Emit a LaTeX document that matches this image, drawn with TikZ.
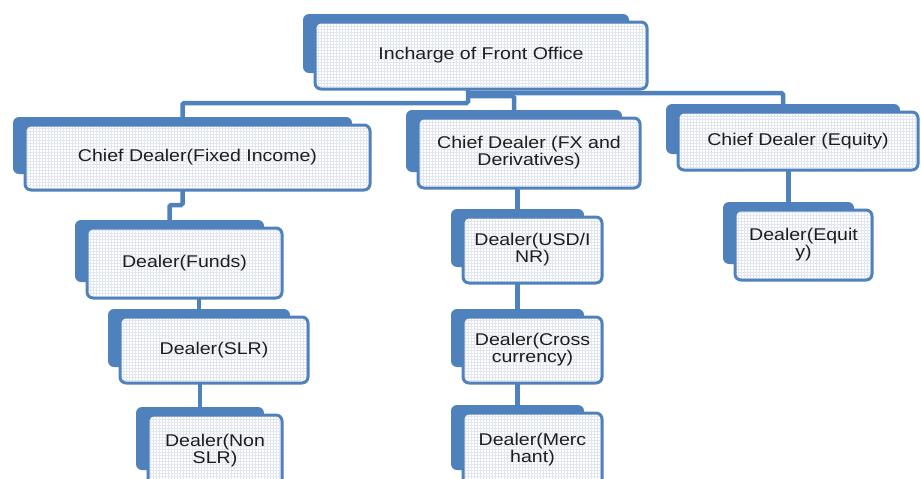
\documentclass[tikz,border=0pt]{standalone}
\usepackage{fontspec}
\setmainfont{Liberation Sans}[FakeStretch=1.15]
\usetikzlibrary{patterns,backgrounds}
\definecolor{boxblue}{HTML}{4F81BD}
\definecolor{gridc}{HTML}{E2E7EF}
\definecolor{txt}{HTML}{1E1E1E}

\tikzset{
  backtab/.style={fill=boxblue, draw=none, rounded corners=6pt, inner sep=0pt, outer sep=0pt},
  frontbox/.style={draw=boxblue, line width=3pt, rounded corners=6pt,
    preaction={fill=white}, pattern=grid, pattern color=gridc,
    inner sep=0pt, outer sep=0pt, align=center, text=txt,
    font=\fontsize{17}{17}\selectfont},
  conn/.style={draw=boxblue, line width=4.5pt, rounded corners=1.5pt},
}

% name, left, top, right, bottom, text
\newcommand\orgbox[6]{%
  \node[backtab, minimum width={(#4-#2-6)*1pt}, minimum height={(#5-#3-8)*1pt}]
    (#1b) at ({(#2+#4-30)/2},{(#3+#5-24)/2}) {};
  \node[frontbox, minimum width={(#4-#2)*1pt}, minimum height={(#5-#3)*1pt}]
    (#1) at ({(#2+#4)/2},{(#3+#5)/2}) {#6};
}

\begin{document}
\begin{tikzpicture}[x=1pt,y=-1pt]
\useasboundingbox (0,0) rectangle (921,479);
\clip (0,0) rectangle (921,479);

% top level
\orgbox{inch}{315}{22}{647}{89}{Incharge of Front Office}

% chief dealers
\orgbox{fixed}{25}{125}{370}{190}{Chief Dealer(Fixed Income)}
\orgbox{fx}{418}{118}{640}{188}{Chief Dealer (FX and\\Derivatives)}
\orgbox{eq}{678}{112}{918}{170}{Chief Dealer (Equity)}

% fixed income desk
\orgbox{funds}{87}{228}{282}{298}{Dealer(Funds)}
\orgbox{slr}{120}{317}{308}{383}{Dealer(SLR)}
\orgbox{nonslr}{148}{415}{282}{486}{Dealer(Non\\SLR)}

% fx desk
\orgbox{usd}{463}{217}{602}{283}{Dealer(USD/I\\NR)}
\orgbox{cross}{463}{317}{602}{383}{Dealer(Cross\\currency)}
\orgbox{merch}{463}{413}{602}{486}{Dealer(Merc\\hant)}

% equity desk
\orgbox{deq}{735}{210}{872}{280}{Dealer(Equit\\y)}

\begin{pgfonlayer}{background}
  % branches from the head of the front office
  \draw[conn] ([xshift=-13pt]inch.south) -- ++(0,14) -| (fixedb.north);
  \draw[conn] ([xshift=-13pt]inch.south) ++(0,7) -| (fxb.north);
  \draw[conn] ([xshift=-13pt]inch.south) ++(0,4) -| (eqb.north);
  % fixed income chain
  \draw[conn] ([xshift=-15pt]fixed.south) -- ++(0,15) -| (fundsb.north);
  \draw[conn] (funds.south -| slrb.north) -- (slrb.north);
  \draw[conn] (slr.south -| nonslrb.north) -- (nonslrb.north);
  % fx chain
  \draw[conn] (fx.south -| usdb.north) -- (usdb.north);
  \draw[conn] (usd.south -| crossb.north) -- (crossb.north);
  \draw[conn] (cross.south -| merchb.north) -- (merchb.north);
  % equity chain
  \draw[conn] (eq.south -| deqb.north) -- (deqb.north);
\end{pgfonlayer}
\end{tikzpicture}
\end{document}
